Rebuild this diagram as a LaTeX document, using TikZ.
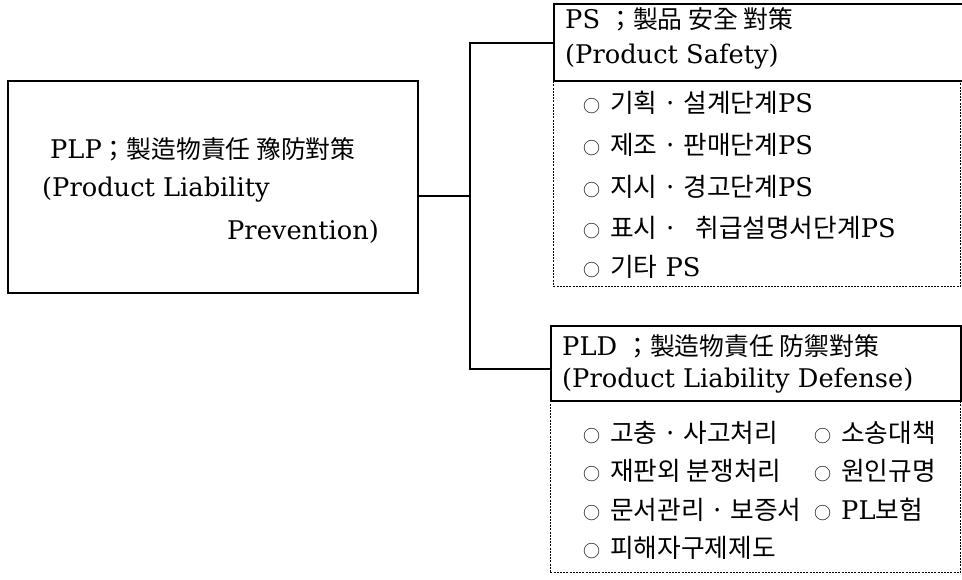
\documentclass[tikz,border=0pt]{standalone}
\usepackage{fontspec}
\setmainfont{DejaVu Serif}
\newfontfamily\kr{Noto Sans CJK KR}
\newcommand\itm{{\kr\fontsize{17}{17}\selectfont ○}\hspace{10pt}}
\begin{document}
\begin{tikzpicture}[x=1pt,y=-1pt,
  solidbox/.style={draw, line width=2pt, inner sep=0pt, anchor=north west},
  listbox/.style={draw, line width=0.9pt, dash pattern=on 2pt off 1.2pt, inner sep=0pt, anchor=north west},
  conn/.style={line width=1.3pt},
  txt/.style={anchor=west, inner sep=0pt, font=\fontsize{25.7}{30}\selectfont},
]
\useasboundingbox (0,0) rectangle (962,579);
% boxes
\node[solidbox, minimum width=410pt, minimum height=212pt] (plp) at (7,80) {};
\node[listbox, minimum width=407pt, minimum height=206pt] (pslist) at (553,80) {};
\node[solidbox, minimum width=412pt, minimum height=77pt] (ps) at (553,3) {};
\node[listbox, minimum width=410pt, minimum height=172pt] (pldlist) at (550,400) {};
\node[solidbox, minimum width=410pt, minimum height=75pt] (pld) at (550,325) {};
% connectors
\coordinate (j) at (470,196);
\coordinate (jt) at (470,43);
\coordinate (jb) at (470,369);
\draw[conn] (plp.east |- j) -- (j);
\draw[conn] (ps.west |- jt) -- (jt) -- (jb) -- (pld.west |- jb);
% left box text
\node[txt] (plp1) at (50,149) {PLP{\kr\fontsize{24.8}{30}\selectfont ；製造物責任 豫防對策}};
\node[txt] (plp2) at (42,190) {(Product Liability};
\node[txt] (plp3) at (227,232) {Prevention)};
% PS
\node[txt] (ps1) at (565,19) {PS {\kr\fontsize{24.8}{30}\selectfont ；製品 安全 對策}};
\node[txt] (ps2) at (565,57) {(Product Safety)};
\node[txt] (ps3) at (583,103) {\itm{\kr 기획 · 설계단계}PS};
\node[txt] (ps4) at (583,145) {\itm{\kr 제조 · 판매단계}PS};
\node[txt] (ps5) at (583,187) {\itm{\kr 지시 · 경고단계}PS};
\node[txt] (ps6) at (583,228) {\itm{\kr 표시 ·\hspace{12pt} 취급설명서단계}PS};
\node[txt] (ps7) at (583,267) {\itm{\kr 기타} PS};
% PLD
\node[txt] (pld1) at (562,346) {PLD {\kr\fontsize{24.8}{30}\selectfont ；製造物責任 防禦對策}};
\node[txt] (pld2) at (562,381) {(Product Liability Defense)};
\node[txt] (pld3) at (583,433) {\itm{\kr 고충 · 사고처리}};
\node[txt] (pld4) at (583,471) {\itm{\kr 재판외 분쟁처리}};
\node[txt] (pld5) at (583,510) {\itm{\kr 문서관리 · 보증서}};
\node[txt] (pld6) at (583,548) {\itm{\kr 피해자구제제도}};
\node[txt] (pld7) at (814,433) {\itm{\kr 소송대책}};
\node[txt] (pld8) at (814,471) {\itm{\kr 원인규명}};
\node[txt] (pld9) at (814,510) {\itm PL{\kr 보험}};
\end{tikzpicture}
\end{document}
